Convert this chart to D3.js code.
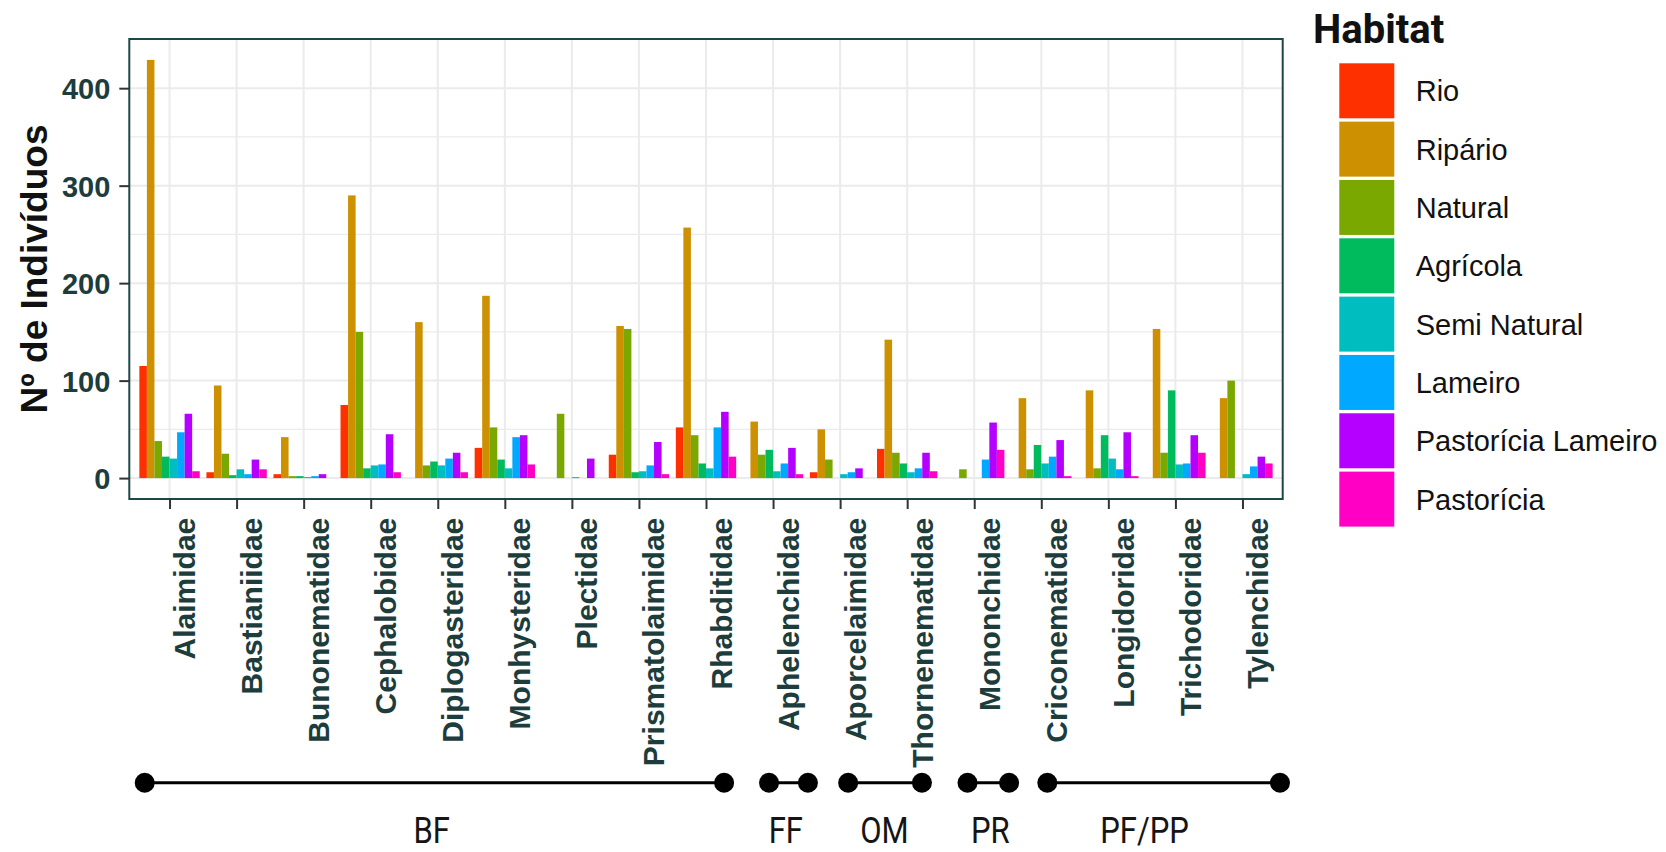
<!DOCTYPE html>
<html>
<head>
<meta charset="utf-8">
<script src="https://cdn.jsdelivr.net/npm/d3@7"></script>
<style>
  html, body { margin: 0; padding: 0; background: #ffffff; }
  svg { display: block; }
</style>
</head>
<body>
<svg id="chart" width="1666" height="852"></svg>
<script>
// ---------------- DATA ----------------
const categories = ["Alaimidae","Bastianiidae","Bunonematidae","Cephalobidae","Diplogasteridae",
  "Monhysteridae","Plectidae","Prismatolaimidae","Rhabditidae","Aphelenchidae","Aporcelaimidae",
  "Thornenematidae","Mononchidae","Criconematidae","Longidoridae","Trichodoridae","Tylenchidae"];

const habitats = ["Rio","Ripário","Natural","Agrícola","Semi Natural","Lameiro","Pastorícia Lameiro","Pastorícia"];

const rio               = [115,   6,  4,  75,   0,  31,  0,  24,  52,  0,  6,  30,  0,  0,  0,   0,   0];
const ripario           = [429,  95, 42, 290, 160, 187,  0, 156, 257, 58, 50, 142,  0, 82, 90, 153,  82];
const natural           = [ 38,  25,  2, 150,  13,  52, 66, 153,  44, 24, 19,  26,  9,  9, 10,  26, 100];
const agricola          = [ 22,   3,  2,  10,  17,  19,  0,   6,  15, 29,  0,  15,  0, 34, 44,  90,   0];
const semiNatural       = [ 20,   9,  1,  13,  13,  10,  1,   7,  10,  7,  4,   6,  0, 15, 20,  14,   4];
const lameiro           = [ 47,   4,  2,  14,  20,  42,  0,  13,  52, 15,  6,  10, 19, 22,  9,  15,  12];
const pastoriciaLameiro = [ 66,  19,  4,  45,  26,  44, 20,  37,  68, 31, 10,  26, 57, 39, 47,  44,  22];
const pastoricia        = [  7,   9,  0,   6,   6,  14,  0,   4,  22,  4,  0,   7, 29,  2,  2,  26,  15];

const seriesValues = [rio, ripario, natural, agricola, semiNatural, lameiro, pastoriciaLameiro, pastoricia];

const yMajorTicks = [0, 100, 200, 300, 400];
const yMinorTicks = [50, 150, 250, 350];

// feeding-group annotation (spans in category-index units)
const groupNames = ["BF", "FF", "OM", "PR", "PF/PP"];
const groupStart = [-0.37, 8.94, 10.12, 11.90, 13.09];
const groupEnd   = [ 8.27, 9.52, 11.22, 12.52, 16.56];
const groupLabel = [ 3.91, 9.19, 10.66, 12.24, 14.54];

// ---------------- STYLE ----------------
const colors = ["#FF3000","#CC9000","#7AA800","#00BA5E","#00BDBF","#00A8FF","#B600FF","#FF00C4"];
const axisTextColor = "#1d3c3c";
const frameColor = "#1e4848";
const gridColor = "#ebebeb";

const svg = d3.select("#chart");
const panel = {left: 129.3, right: 1282.7, top: 39, bottom: 499};

const table = [];
categories.forEach((c, i) => habitats.forEach((h, j) => table.push({cat: c, hab: h, value: seriesValues[j][i], j})));

const yMax = d3.max(table, d => d.value);
const pad = yMax * 0.05;
const y = d3.scaleLinear().domain([-pad, yMax + pad]).range([panel.bottom, panel.top]);
const x = d3.scalePoint().domain(categories).range([panel.left, panel.right]).padding(0.6);
const step = x.step();
const xb = d3.scaleBand().domain(habitats).range([-0.45 * step, 0.45 * step]).padding(0);
const color = d3.scaleOrdinal().domain(habitats).range(colors);
const xi = d3.scaleLinear().domain([0, categories.length - 1])
  .range([x(categories[0]), x(categories[categories.length - 1])]);

// panel background
svg.append("rect").attr("x", panel.left).attr("y", panel.top)
  .attr("width", panel.right - panel.left).attr("height", panel.bottom - panel.top)
  .attr("fill", "#ffffff");

// grid
const grid = svg.append("g");
grid.selectAll("line.minor").data(yMinorTicks).join("line")
  .attr("x1", panel.left).attr("x2", panel.right)
  .attr("y1", d => y(d)).attr("y2", d => y(d))
  .attr("stroke", gridColor).attr("stroke-width", 1.2);
grid.selectAll("line.major").data(yMajorTicks).join("line")
  .attr("x1", panel.left).attr("x2", panel.right)
  .attr("y1", d => y(d)).attr("y2", d => y(d))
  .attr("stroke", gridColor).attr("stroke-width", 2);
grid.selectAll("line.vx").data(categories).join("line")
  .attr("x1", d => x(d)).attr("x2", d => x(d))
  .attr("y1", panel.top).attr("y2", panel.bottom)
  .attr("stroke", gridColor).attr("stroke-width", 2);

// bars
svg.append("g").selectAll("rect").data(table.filter(d => d.value > 0)).join("rect")
  .attr("x", d => x(d.cat) + xb(d.hab))
  .attr("width", xb.bandwidth())
  .attr("y", d => y(d.value))
  .attr("height", d => y(0) - y(d.value))
  .attr("fill", d => color(d.hab));

// panel border
svg.append("rect").attr("x", panel.left).attr("y", panel.top)
  .attr("width", panel.right - panel.left).attr("height", panel.bottom - panel.top)
  .attr("fill", "none").attr("stroke", frameColor).attr("stroke-width", 2);

// y axis
const yAxis = svg.append("g").attr("transform", `translate(${panel.left},0)`)
  .call(d3.axisLeft(y).tickValues(yMajorTicks).tickSize(10).tickPadding(9));
yAxis.select(".domain").remove();
yAxis.selectAll(".tick line").attr("stroke", "#333").attr("stroke-width", 2);
yAxis.selectAll(".tick text")
  .attr("fill", axisTextColor)
  .style("font-family", "'Liberation Sans', Arial, sans-serif")
  .style("font-weight", "bold").style("font-size", "29px")
  .attr("dy", "0.36em");

// x axis
const xAxis = svg.append("g").attr("transform", `translate(0,${panel.bottom})`)
  .call(d3.axisBottom(x).tickSize(10).tickPadding(0));
xAxis.select(".domain").remove();
xAxis.selectAll(".tick line").attr("stroke", "#333").attr("stroke-width", 2);
xAxis.selectAll(".tick text")
  .attr("x", 0).attr("y", 0).attr("dy", 0)
  .attr("transform", "translate(25,18.7) rotate(-90)")
  .attr("text-anchor", "end")
  .attr("fill", axisTextColor)
  .style("font-family", "'Liberation Sans', Arial, sans-serif")
  .style("font-weight", "bold").style("font-size", "30px");

// y axis title
svg.append("text")
  .attr("transform", `translate(46.5,${(panel.top + panel.bottom) / 2}) rotate(-90)`)
  .attr("text-anchor", "middle")
  .attr("fill", "#111")
  .style("font-family", "'Liberation Sans', Arial, sans-serif")
  .style("font-weight", "bold").style("font-size", "37px")
  .text("Nº de Indivíduos");

// legend
const legend = svg.append("g");
legend.append("text").attr("x", 1313).attr("y", 42.7)
  .attr("fill", "#111")
  .style("font-family", "Roboto, 'Liberation Sans', sans-serif")
  .style("font-weight", "bold").style("font-size", "40px")
  .text("Habitat");
const keyStride = 58.33, keySize = 55, keyTop = 63.3;
const li = legend.selectAll("g.item").data(habitats).join("g")
  .attr("transform", (d, i) => `translate(1339.3,${keyTop + i * keyStride})`);
li.append("rect").attr("width", keySize).attr("height", keySize).attr("fill", d => color(d));
li.append("text").attr("x", 76.4).attr("y", keySize / 2 + 10.4)
  .attr("fill", "#111")
  .style("font-family", "'Liberation Sans', Arial, sans-serif")
  .style("font-size", "29px")
  .text(d => d);

// feeding-group annotation
const ann = svg.append("g");
const lineY = 782.7;
const groups = groupNames.map((n, i) => ({name: n, s: groupStart[i], e: groupEnd[i], l: groupLabel[i]}));
ann.selectAll("line").data(groups).join("line")
  .attr("x1", d => xi(d.s)).attr("x2", d => xi(d.e))
  .attr("y1", lineY).attr("y2", lineY)
  .attr("stroke", "#000").attr("stroke-width", 3);
ann.selectAll("circle.s").data(groups).join("circle").attr("class", "s")
  .attr("cx", d => xi(d.s)).attr("cy", lineY).attr("r", 10).attr("fill", "#000");
ann.selectAll("circle.e").data(groups).join("circle").attr("class", "e")
  .attr("cx", d => xi(d.e)).attr("cy", lineY).attr("r", 10).attr("fill", "#000");
ann.selectAll("text").data(groups).join("text")
  .attr("transform", d => `translate(${xi(d.l)},843.3) scale(0.84,1)`)
  .attr("text-anchor", "middle")
  .attr("fill", "#151515")
  .style("font-family", "Roboto, 'Liberation Sans', sans-serif")
  .style("font-size", "37px")
  .text(d => d.name);
</script>
</body>
</html>
